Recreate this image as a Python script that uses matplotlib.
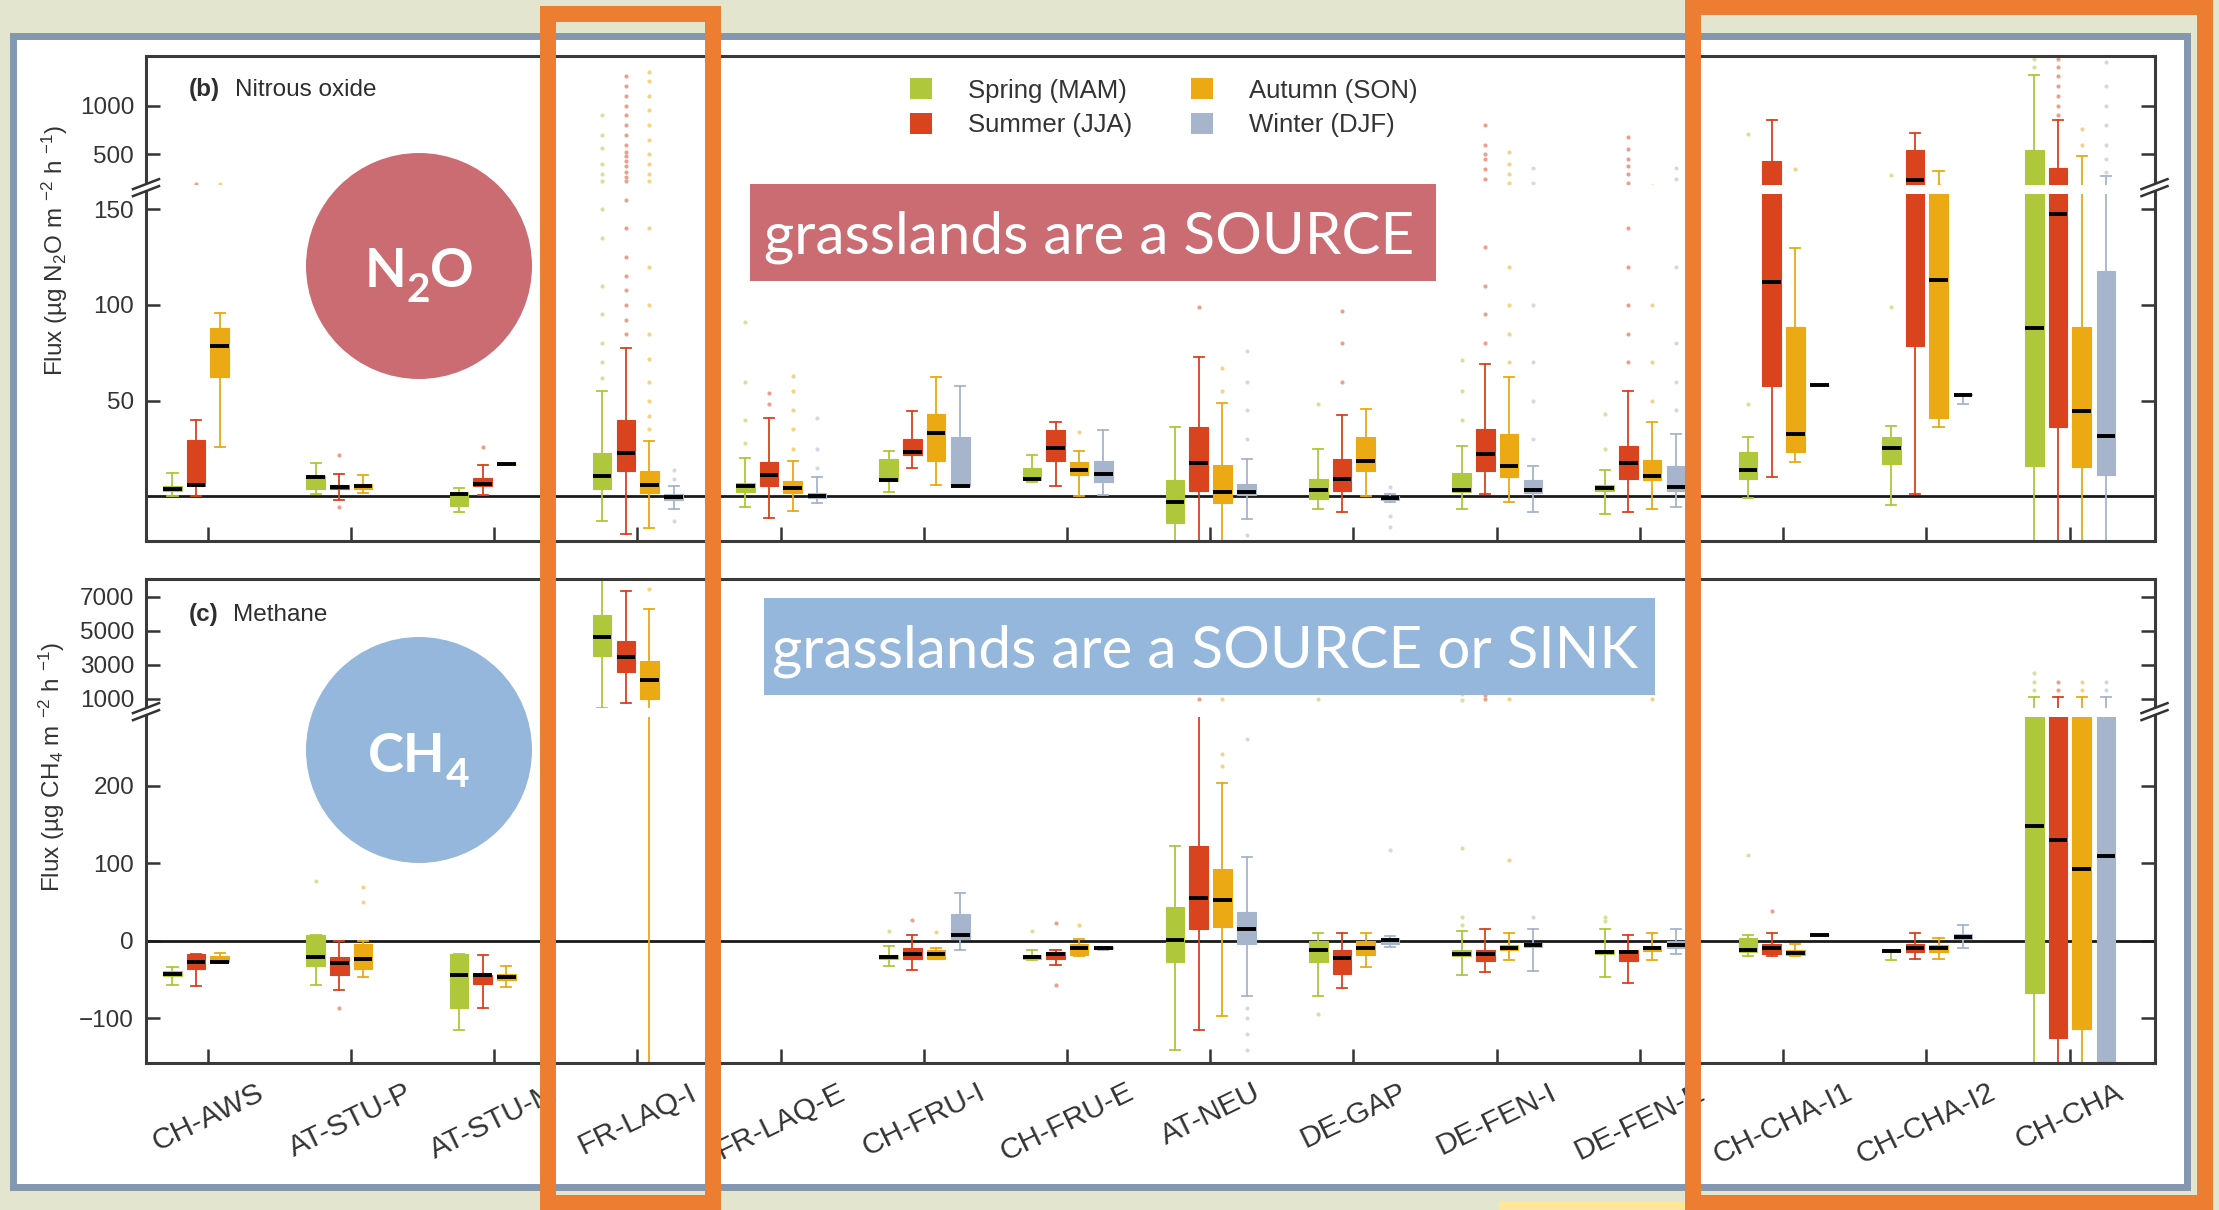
import numpy as np
import matplotlib
matplotlib.use("Agg")
import matplotlib.pyplot as plt
from matplotlib import transforms
from matplotlib.lines import Line2D
from matplotlib.patches import Rectangle, Ellipse, Patch, Polygon

W, H = 2219, 1210

plt.rcParams["font.family"] = ["Liberation Sans", "DejaVu Sans"]
plt.rcParams["mathtext.fontset"] = "custom"
plt.rcParams["mathtext.rm"] = "Liberation Sans"
plt.rcParams["mathtext.it"] = "Liberation Sans:italic"
plt.rcParams["mathtext.bf"] = "Liberation Sans:bold"

sites = ["CH-AWS", "AT-STU-P", "AT-STU-M", "FR-LAQ-I", "FR-LAQ-E", "CH-FRU-I",
         "CH-FRU-E", "AT-NEU", "DE-GAP", "DE-FEN-I", "DE-FEN-E", "CH-CHA-I1",
         "CH-CHA-I2", "CH-CHA"]
seasons = ["Spring (MAM)", "Summer (JJA)", "Autumn (SON)", "Winter (DJF)"]
season_colors = ["#AFC73A", "#D9431E", "#EBA914", "#A6B4CC"]
box_offsets = [-0.245, -0.08, 0.085, 0.255]

# box stats per site: (lower whisker, q1, median, q3, upper whisker), None = no data
n2o_spring = [
    (0, 2.8, 4.1, 5.6, 12), (1, 3.7, 10.3, 10.6, 17.4), (-8.4, -5, 1.5, 2.5, 4.3),
    (-13, 3.7, 10.6, 22.4, 55), (-5.6, 2.2, 5.2, 7.1, 20), (2.2, 7.8, 8.4, 19.6, 23.9),
    (7.5, 8.4, 9.3, 14.9, 21.5), (-40, -14, -2.8, 8.4, 36), (-6.5, -1.5, 3.4, 9.3, 24.8),
    (-6.5, 2.2, 3.2, 12.1, 26.5), (-9.3, 2.8, 4.3, 6.0, 14), (-0.9, 9.3, 14, 23.3, 30.8),
    (-4.7, 16.8, 25.2, 30.8, 36.8), (-40, 15.9, 88, 545, 1313),
]
n2o_summer = [
    (0, 5.6, 6.2, 29.5, 39.7), (-1.9, 4.1, 5.0, 6.0, 11.6), (0.9, 5.2, 6.5, 9.7, 16.4),
    (-19.6, 13.1, 22.9, 40.1, 77.4), (-11.2, 5.2, 11.2, 18.1, 41), (14.6, 21.5, 23.3, 30.2, 44.8),
    (5.6, 18.7, 25.2, 34.5, 38.8), (-40, 2.8, 17.4, 36, 72.8), (-8.4, 2.8, 9.3, 19.6, 42.4),
    (1, 13, 22, 35.4, 69), (-8.4, 9, 17.2, 26.5, 55), (10.3, 57.5, 112, 435, 857),
    (1, 78.4, 240, 545, 722), (-40, 36.4, 147.4, 360, 847),
]
n2o_autumn = [
    (26, 62.5, 78.4, 88.2, 96), (1.9, 4.1, 5.6, 6.5, 11.2), (17, 17, 17, 17, 17),
    (-16.4, 1.9, 6.2, 13.1, 28.9), (-7.5, 1.9, 4.3, 7.8, 18.7), (6.0, 18.7, 33.0, 42.9, 62.1),
    (0, 11.2, 14.0, 17.7, 23.9), (-40, -3.7, 2.2, 16.2, 48.9), (0, 13.4, 18.7, 30.8, 45.7),
    (-2.8, 10.3, 15.9, 32.6, 62.5), (-6.5, 8.4, 10.6, 19.2, 39), (17.7, 23.3, 32.6, 88.6, 129.7),
    (36.4, 41, 112.9, 175, 330), (-40, 15.3, 44.4, 88.6, 486),
]
n2o_winter = [
    None, None, None,
    (-6.5, -2, -0.5, 1, 5.6), (-3.7, -0.9, 0.4, 1.9, 10), (5.6, 5.6, 5.6, 30.8, 57.8),
    (0.9, 7.5, 11.6, 18.7, 34.5), (-12, 0.9, 2.2, 6.5, 19.6), (-3, -2, -1, 0, 1.5),
    (-8.4, 1.9, 3.2, 8.4, 15.9), (-5.6, 2.8, 4.7, 15.9, 32.6), (58.4, 58.4, 58.4, 58.4, 58.4),
    (48.5, 52.8, 52.8, 53.5, 53.5), (-40, 11.2, 31.3, 117.5, 280),
]

ch4_spring = [
    (-57.5, -45, -42.5, -39, -34), (-57.5, -33, -21, 7, 7), (-115.5, -87, -44, -17, -17),
    (463, 3512, 4610, 5951, 9000), None, (-32, -23, -21, -18, -6.5),
    (-25, -23, -21, -19, -12), (-141, -27, 0.5, 43, 122.6), (-71, -28, -12, 0, 9.7),
    (-44, -20, -17, -12, 12), (-47, -17, -14.5, -12, 15), (-20, -14.5, -12, 4, 7),
    (-25, -13.4, -13.4, -13.4, -13.4), (-300, -68, 148, 290, 1100),
]
ch4_summer = [
    (-58.6, -36, -27, -17, -17), (-64, -44, -29, -21.5, -1), (-87, -56, -44, -44, -18),
    (756, 2585, 3463, 4415, 7366), None, (-37.6, -23, -17, -9, 7),
    (-31, -23, -17, -14, -12), (-115.6, 15, 55.4, 122.6, 290), (-61, -43, -22.6, -12, 10),
    (-41, -26, -17, -12, 15), (-55, -26, -14.5, -12, 7), (-20, -17, -10, -4, 10),
    (-24, -15, -10, -4, 10), (-300, -126, 130.6, 290, 1100),
]
ch4_autumn = [
    (-29, -28, -27, -20, -16), (-47, -36, -24, -4, -1), (-60, -50.5, -47, -43, -32),
    (-300, 1000, 2098, 3195, 6268), None, (-23, -23, -17, -12, -9),
    (-20, -18, -10, -4, 2), (-96.8, 17.7, 52.7, 93, 204), (-34, -18, -10, -1, 10),
    (-25, -12, -9, -6, 10), (-25, -13, -10, -7, 10), (-20, -18, -15.6, -12, -4),
    (-23, -15, -9, -6, 3), (-300, -114, 93, 290, 1100),
]
ch4_winter = [
    None, None, None, None, None,
    (-12, 1.6, 7, 34, 62), (-12, -11, -10, -8, -8), (-71, -3.8, 15, 37.6, 108),
    (-8, -4, 0.5, 4, 6), (-39, -8, -5, -3, 15), (-17, -9, -5, -1, 15),
    (8, 8, 8, 8, 8), (-9, 1.6, 5.4, 8.5, 20), (-300, -300, 109, 290, 1100),
]

# outlying points: (site, season index, values)
n2o_outliers = [
    ("CH-AWS", 1, [190]), ("CH-AWS", 2, [190]),
    ("AT-STU-P", 1, [21.5, -5.6]), ("AT-STU-M", 1, [26]),
    ("FR-LAQ-I", 0, [62, 70, 80, 95, 110, 135, 150, 230, 300, 400, 560, 700, 900]),
    ("FR-LAQ-I", 1, [85, 92, 100, 108, 115, 125, 140, 155, 220, 270, 320, 380, 430,
                     480, 520, 600, 700, 800, 900, 1000, 1100, 1200, 1300]),
    ("FR-LAQ-I", 2, [35, 42, 50, 60, 72, 85, 100, 120, 140, 230, 300, 400, 500, 650,
                     800, 950, 1100, 1250, 1350]),
    ("FR-LAQ-I", 3, [-13, 9, 14]),
    ("FR-LAQ-E", 0, [28, 40, 60, 91]), ("FR-LAQ-E", 1, [48, 54]),
    ("FR-LAQ-E", 2, [25, 35, 45, 55, 63]), ("FR-LAQ-E", 3, [15, 25, 41]),
    ("CH-FRU-E", 2, [33.6]),
    ("AT-NEU", 1, [99]), ("AT-NEU", 2, [55, 67]), ("AT-NEU", 3, [30, 45, 60, 76, -20]),
    ("DE-GAP", 0, [48.5]), ("DE-GAP", 1, [60, 80, 97]), ("DE-GAP", 3, [-16, -10, 5]),
    ("DE-FEN-I", 0, [40, 55, 71]),
    ("DE-FEN-I", 1, [80, 95, 110, 130, 250, 350, 450, 500, 600, 800]),
    ("DE-FEN-I", 2, [70, 85, 100, 120, 200, 300, 400, 520]),
    ("DE-FEN-I", 3, [30, 50, 70, 100, 200, 360]),
    ("DE-FEN-E", 0, [25, 43]),
    ("DE-FEN-E", 1, [70, 85, 100, 120, 140, 200, 300, 380, 450, 550, 673]),
    ("DE-FEN-E", 2, [50, 70, 100, 177]),
    ("DE-FEN-E", 3, [45, 60, 80, 120, 250, 360]),
    ("CH-CHA-I1", 0, [48.5, 710]), ("CH-CHA-I1", 2, [350]),
    ("CH-CHA-I2", 0, [99, 290]), ("CH-CHA-I2", 2, [180]),
    ("CH-CHA", 0, [1400, 1480]),
    ("CH-CHA", 1, [900, 1000, 1100, 1200, 1300, 1400, 1480]),
    ("CH-CHA", 2, [600, 760]),
    ("CH-CHA", 3, [320, 450, 600, 800, 1000, 1200, 1450]),
]
ch4_outliers = [
    ("AT-STU-P", 0, [77]), ("AT-STU-P", 1, [-87]), ("AT-STU-P", 2, [50, 69]),
    ("FR-LAQ-I", 2, [7460]),
    ("CH-FRU-I", 0, [13]), ("CH-FRU-I", 1, [27]), ("CH-FRU-I", 2, [11]),
    ("CH-FRU-E", 0, [13]), ("CH-FRU-E", 1, [23, -57]), ("CH-FRU-E", 2, [20]),
    ("AT-NEU", 1, [1000]), ("AT-NEU", 2, [225, 241, 1000]),
    ("AT-NEU", 3, [260, -87, -100, -120, -141]),
    ("DE-GAP", 0, [-95, 1000]), ("DE-GAP", 3, [117]),
    ("DE-FEN-I", 0, [20, 30, 120, 900, 1300]),
    ("DE-FEN-I", 1, [1000, 1200, 1400, 1700, 2000]),
    ("DE-FEN-I", 2, [104, 1000]), ("DE-FEN-I", 3, [30]),
    ("DE-FEN-E", 0, [25, 31]), ("DE-FEN-E", 2, [1000]),
    ("CH-CHA-I1", 0, [111]), ("CH-CHA-I1", 1, [38]),
    ("CH-CHA", 0, [1500, 2000, 2500]), ("CH-CHA", 1, [1500, 2000]),
    ("CH-CHA", 2, [1500, 2000]), ("CH-CHA", 3, [1500, 2000]),
]

n2o_ticks = [50, 100, 150, 500, 1000]
ch4_ticks = [-100, 0, 100, 200, 1000, 3000, 5000, 7000]


def fx(px):
    return px / W


def fy(py):
    return 1 - py / H


def broken_scale(split, ratio):
    # linear below the split, compressed linear above it
    def fwd(y):
        y = np.asarray(y, dtype=float)
        return np.where(y <= split, y, split + (y - split) * ratio)

    def inv(u):
        u = np.asarray(u, dtype=float)
        return np.where(u <= split, u, split + (u - split) / ratio)
    return fwd, inv


def draw_boxes(ax, season_stats, outliers):
    for k, (stats, color) in enumerate(zip(season_stats, season_colors)):
        boxes, pos = [], []
        for i, s in enumerate(stats):
            if s is None:
                continue
            lo, q1, med, q3, hi = s
            fl = [v for name, kk, vals in outliers if name == sites[i] and kk == k for v in vals]
            boxes.append(dict(whislo=lo, q1=q1, med=med, q3=q3, whishi=hi, fliers=fl))
            pos.append(i + box_offsets[k])
        ax.bxp(boxes, positions=pos, widths=0.13, capwidths=0.07, patch_artist=True,
               manage_ticks=False, zorder=3,
               boxprops=dict(facecolor=color, edgecolor=color, linewidth=0.8),
               whiskerprops=dict(color=color, linewidth=1.3),
               capprops=dict(color=color, linewidth=1.3),
               medianprops=dict(color="black", linewidth=2.8),
               flierprops=dict(marker="o", markersize=3, markerfacecolor=color,
                               markeredgecolor="none", alpha=0.5))


def break_marks(ax, y):
    base = transforms.blended_transform_factory(ax.transAxes, ax.transData)
    for xa in (0, 1):
        tr = transforms.Affine2D() + transforms.ScaledTranslation(xa, y, base)
        fig.add_artist(Polygon([(-13, -8), (13, 2), (13, 9), (-13, -1)], closed=True,
                               facecolor="white", edgecolor="none", transform=tr, zorder=7))
        for dy in (-8, -1):
            fig.add_artist(Line2D([-13, 13], [dy, dy + 10], color="#333333", lw=1.8,
                                  transform=tr, zorder=8))


def setup_axes(ax, split, ratio, ylim, ticks, gap):
    ax.set_yscale("function", functions=broken_scale(split, ratio))
    ax.set_xlim(-0.43, 13.593)
    ax.set_ylim(*ylim)
    ax.set_yticks(ticks)
    ax.set_yticklabels([str(t).replace("-", "\u2212") for t in ticks])
    ax.set_xticks(range(len(sites)))
    ax.tick_params(axis="y", direction="in", left=True, right=True, length=10, width=1.8,
                   pad=8.6, labelsize=17.5, color="#333333", labelcolor="#333333")
    ax.tick_params(axis="x", direction="in", bottom=True, top=False, length=10, width=1.8,
                   color="#333333")
    for sp in ax.spines.values():
        sp.set_linewidth(2.2)
        sp.set_color("#3a3a3a")
        sp.set_zorder(6)
    ax.axhline(0, color="#1a1a1a", lw=2, zorder=2)
    ax.axhspan(gap[0], gap[1], color="white", zorder=5, lw=0)


fig = plt.figure(figsize=(W / 100, H / 100), dpi=100, facecolor="#E3E5CF")

# white slide panel with a blue-grey frame
fig.add_artist(Rectangle((fx(13), fy(1187)), (2187 - 13) / W, (1187 - 35.5) / H,
                         facecolor="white", edgecolor="#8497B0", lw=5,
                         transform=fig.transFigure, zorder=-1))

ax1 = fig.add_axes([fx(146), fy(541), (2154.5 - 146) / W, (541 - 56) / H])
ax2 = fig.add_axes([fx(146), fy(1063), (2154.5 - 146) / W, (1063 - 579) / H])

setup_axes(ax1, 161.5, 0.0508, (-23.3, 1510), n2o_ticks, (157.7, 185))
setup_axes(ax2, 297, 0.0219, (-157.8, 8050), ch4_ticks, (289, 434))

draw_boxes(ax1, [n2o_spring, n2o_summer, n2o_autumn, n2o_winter], n2o_outliers)
draw_boxes(ax2, [ch4_spring, ch4_summer, ch4_autumn, ch4_winter], ch4_outliers)

ax1.tick_params(labelbottom=False)
ax2.set_xticklabels(sites, rotation=26, ha="center", fontsize=21.5, color="#333333")
ax2.tick_params(axis="x", pad=11)

break_marks(ax1, 161)
break_marks(ax2, 295)

# panel titles
fig.text(fx(189), fy(96), "(b)", fontsize=17.5, fontweight="bold", color="#2e2e2e")
fig.text(fx(235), fy(96), "Nitrous oxide", fontsize=17.5, color="#2e2e2e")
fig.text(fx(189), fy(621), "(c)", fontsize=17.5, fontweight="bold", color="#2e2e2e")
fig.text(fx(233), fy(621), "Methane", fontsize=17.5, color="#2e2e2e")

fig.text(fx(55), fy(250), "Flux (µg N$_2$O m $^{-2}$ h $^{-1}$)", rotation=90,
         ha="center", va="center", fontsize=17.5, color="#333333")
fig.text(fx(52), fy(767), "Flux (µg CH$_4$ m $^{-2}$ h $^{-1}$)", rotation=90,
         ha="center", va="center", fontsize=17.5, color="#333333")

handles = [Patch(facecolor=c, edgecolor="none") for c in season_colors]
leg = ax1.legend(handles, seasons, ncol=2, loc="upper left",
                 bbox_to_anchor=(fx(910), fy(78)), bbox_transform=fig.transFigure,
                 frameon=False, fontsize=18.5, handlelength=0.85, handleheight=0.9,
                 handletextpad=1.4, columnspacing=2.3, labelspacing=0.4,
                 borderpad=0, borderaxespad=0)
leg.set_zorder(7)
for t in leg.get_texts():
    t.set_color("#333333")

# callouts
red, blue, orange = "#CB6C73", "#95B7DB", "#ED7D31"
fig.add_artist(Ellipse((fx(419), fy(266)), 226 / W, 226 / H, facecolor=red,
                       edgecolor="none", transform=fig.transFigure, zorder=4))
fig.add_artist(Ellipse((fx(419), fy(750)), 226 / W, 226 / H, facecolor=blue,
                       edgecolor="none", transform=fig.transFigure, zorder=4))
fig.add_artist(Rectangle((fx(750), fy(281)), (1436 - 750) / W, (281 - 184) / H,
                         facecolor=red, edgecolor="none", transform=fig.transFigure, zorder=4))
fig.add_artist(Rectangle((fx(764), fy(695)), (1655 - 764) / W, (695 - 598) / H,
                         facecolor=blue, edgecolor="none", transform=fig.transFigure, zorder=4))
fig.text(fx(1089), fy(254), "grasslands are a SOURCE", ha="center", va="baseline",
         fontsize=42, family="Lato", color="white", zorder=6)
fig.text(fx(1205), fy(667), "grasslands are a SOURCE or SINK", ha="center", va="baseline",
         fontsize=42, family="Lato", color="white", zorder=6)


def formula(cx, base, pieces, size):
    r = fig.canvas.get_renderer()
    placed, width = [], 0.0
    for s, sub in pieces:
        t = fig.text(0, 0, s, fontsize=size * (0.75 if sub else 1), fontweight="bold",
                     family="Lato", color="white", va="baseline", ha="left", zorder=6)
        placed.append((t, width, sub))
        width += t.get_window_extent(r).width
    left = cx - width / 2
    for t, off, sub in placed:
        t.set_position((fx(left + off), fy(base + (15 if sub else 0))))


formula(419, 287, [("N", False), ("2", True), ("O", False)], 39)
formula(419, 772, [("CH", False), ("4", True)], 39)

# highlight frames
fig.add_artist(Rectangle((fx(1499), fy(1215)), 186 / W, 14 / H, facecolor="#FFE699",
                         edgecolor="none", transform=fig.transFigure, zorder=3))
fig.add_artist(Rectangle((fx(548), fy(1203)), (713 - 548) / W, (1203 - 14) / H, fill=False,
                         edgecolor=orange, lw=11.5, joinstyle="miter",
                         transform=fig.transFigure, zorder=9))
fig.add_artist(Rectangle((fx(1693), fy(1203)), (2205 - 1693) / W, (1203 - 7) / H, fill=False,
                         edgecolor=orange, lw=11.5, joinstyle="miter",
                         transform=fig.transFigure, zorder=9))

fig.savefig("out.png", dpi=100, facecolor=fig.get_facecolor())
